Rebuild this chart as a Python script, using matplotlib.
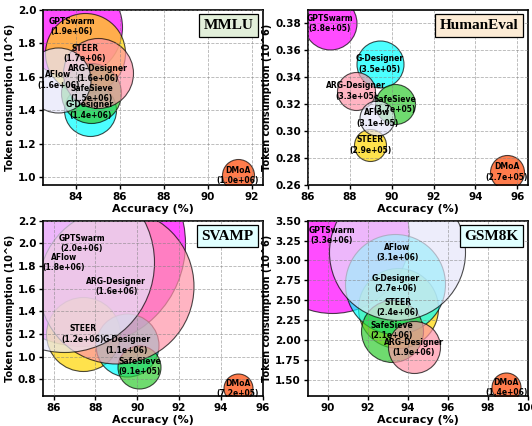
import matplotlib.pyplot as plt
from matplotlib.ticker import FormatStrFormatter
import numpy as np

# drawing order of the methods (later ones sit on top)
methods = ["GPTSwarm", "STEER", "G-Designer", "SafeSieve", "ARG-Designer", "AFlow", "DMoA"]
colors = ["#FF00FF", "#FFD700", "#00FFFF", "#32CD32", "#FF94A8", "#E6E6FA", "#FF4500"]

# MMLU
mmlu_acc = [83.8, 84.4, 84.64, 84.7, 85.0, 83.2, 91.35]
mmlu_tok = [1.90, 1.74, 1.40, 1.50, 1.62, 1.58, 1.01]
mmlu_lab = [1.9, 1.7, 1.4, 1.5, 1.6, 1.6, 1.0]
mmlu_bub = [100, 80, 52, 60, 70, 65, 32]

# HumanEval
he_acc = [87.05, 88.98, 89.43, 90.15, 88.3, 89.3, 95.5]
he_tok = [0.38, 0.29, 0.35, 0.32, 0.33, 0.31, 0.27]
he_lab = [0.38, 0.29, 0.35, 0.37, 0.33, 0.31, 0.27]
he_bub = [53, 32, 47, 40, 38, 35, 34]

# SVAMP
sv_acc = [87.35, 87.4, 89.5, 90.1, 89.0, 86.5, 94.8]
sv_tok = [2.00, 1.20, 1.10, 0.91, 1.62, 1.83, 0.72]
sv_lab = [2.0, 1.2, 1.1, 0.91, 1.6, 1.8, 0.72]
sv_bub = [206, 74, 63, 43, 155, 180, 29]

# GSM8K
gsm_acc = [90.2, 93.5, 93.37, 93.2, 94.3, 93.48, 98.92]
gsm_tok = [3.31, 2.41, 2.71, 2.12, 1.91, 3.10, 1.41]
gsm_lab = [3.3, 2.4, 2.7, 2.1, 1.9, 3.1, 1.4]
gsm_bub = [154, 80, 100, 62, 52, 136, 29]

panels = [
    ("MMLU", mmlu_acc, mmlu_tok, mmlu_lab, mmlu_bub, (82.5, 92.5), (0.95, 2.0),
     np.arange(84, 93, 2), np.arange(1.0, 2.01, 0.2), "%.1f", "#E2EFDA"),
    ("HumanEval", he_acc, he_tok, he_lab, he_bub, (86, 96.5), (0.26, 0.39),
     np.arange(86, 97, 2), np.arange(0.26, 0.381, 0.02), "%.2f", "#FCEBD5"),
    ("SVAMP", sv_acc, sv_tok, sv_lab, sv_bub, (85.5, 96), (0.65, 2.2),
     np.arange(86, 97, 2), np.arange(0.8, 2.21, 0.2), "%.1f", "#E0FFFF"),
    ("GSM8K", gsm_acc, gsm_tok, gsm_lab, gsm_bub, (89, 100), (1.3, 3.5),
     np.arange(90, 101, 2), np.arange(1.5, 3.51, 0.25), "%.2f", "#E0FFFF"),
]

fig, axes = plt.subplots(2, 2, figsize=(5.32, 4.26), dpi=100)
plt.subplots_adjust(left=0.081, right=0.992, top=0.977, bottom=0.07, wspace=0.205, hspace=0.2)

for ax, (title, acc, tok, lab, bub, xl, yl, xt, yt, fmt, boxc) in zip(axes.flat, panels):
    sizes = (np.array(bub) * 0.72) ** 2
    for i in range(len(methods)):
        ax.scatter(acc[i], tok[i], s=sizes[i], color=colors[i], alpha=0.7,
                   edgecolors="black", linewidths=0.8, zorder=2 + i * 0.01)
        ax.text(acc[i], tok[i], f"{methods[i]}\n({lab[i] * 1e6:.1e})", ha="center", va="center",
                fontsize=5.5, fontweight="bold", zorder=5)
    ax.set_xlim(xl)
    ax.set_ylim(yl)
    ax.set_xticks(xt)
    ax.set_yticks(yt)
    ax.yaxis.set_major_formatter(FormatStrFormatter(fmt))
    ax.grid(True, linestyle="--", color="grey", alpha=0.6, linewidth=0.6)
    ax.set_axisbelow(False)
    for sp in ax.spines.values():
        sp.set_linewidth(1.2)
    ax.tick_params(labelsize=7.5, length=3, width=1, pad=2)
    for t in ax.get_xticklabels() + ax.get_yticklabels():
        t.set_fontweight("bold")
    ax.set_xlabel("Accuracy (%)", fontsize=8, fontweight="bold", labelpad=1)
    ax.set_ylabel("Token consumption (10^6)", fontsize=7, fontweight="bold", labelpad=2)
    ax.text(0.958, 0.948, title, transform=ax.transAxes, ha="right", va="top",
            fontsize=11, fontweight="bold", family="Liberation Serif", zorder=6,
            bbox=dict(boxstyle="square,pad=0.3", facecolor=boxc, edgecolor="black", linewidth=0.9))

fig.savefig("out.png", dpi=100)
